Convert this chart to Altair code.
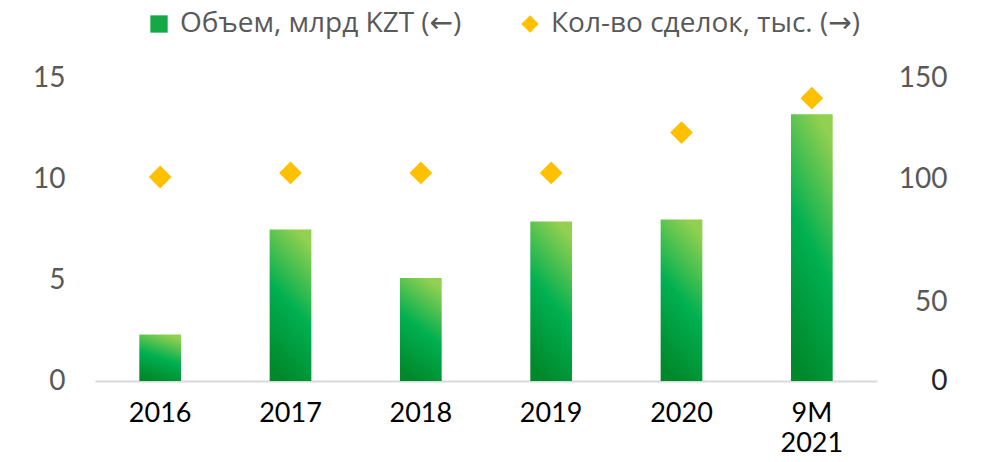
import altair as alt
import pandas as pd

years = ["2016", "2017", "2018", "2019", "2020", "9M 2021"]
volume = [2.3, 7.5, 5.1, 7.9, 8.0, 13.2]
deals = [101, 103, 103, 103, 123, 140]
vol_name = "Объем, млрд KZT (←)"
deal_name = "Кол-во сделок, тыс. (→)"

df = pd.DataFrame({"year": years, "volume": volume, "deals": deals, "series": deal_name})

x = alt.X(
    "year:N", sort=years,
    scale=alt.Scale(paddingInner=0.68, paddingOuter=0.34),
    axis=alt.Axis(title=None, labelAngle=0, labelExpr="split(datum.label, ' ')",
                  labelFont="Lato", labelFontSize=27, labelColor="#000000",
                  labelPadding=19, labelLineHeight=30, ticks=False,
                  domainColor="#D9D9D9", domainWidth=2),
)

grad = alt.Gradient(
    gradient="linear",
    stops=[alt.GradientStop(color="#00882B", offset=0),
           alt.GradientStop(color="#00B050", offset=0.5),
           alt.GradientStop(color="#92D050", offset=1)],
    x1=0.35, y1=1, x2=0.65, y2=0,
)

bars = alt.Chart(df).mark_bar(fill=grad).encode(
    x=x,
    y=alt.Y("volume:Q", scale=alt.Scale(domain=[0, 15]),
            axis=alt.Axis(title=None, values=[0, 5, 10, 15], grid=False, domain=False,
                          ticks=False, labelFont="Lato", labelFontSize=28,
                          labelColor="#595959", labelPadding=30)),
)

legend_opts = dict(title=None, orient="none", legendX=50, legendY=-68,
                   direction="horizontal", labelFont="Open Sans, DejaVu Sans",
                   labelFontSize=28, labelColor="#595959", labelLimit=600,
                   labelOffset=7, columnPadding=54, symbolSize=300,
                   symbolStrokeWidth=0)

points = alt.Chart(df).mark_point(filled=True, size=520, opacity=1).encode(
    x=x,
    y=alt.Y("deals:Q", scale=alt.Scale(domain=[0, 150]),
            axis=alt.Axis(title=None, orient="right", values=[0, 50, 100, 150], grid=False,
                          domain=False, ticks=False, labelFont="Lato", labelFontSize=28,
                          labelColor={"condition": {"test": "datum.value == 0", "value": "#262626"}, "value": "#595959"},
                          labelOffset={"condition": {"test": "datum.value == 50", "value": 22}, "value": 0},
                          labelAlign="right", labelPadding=70)),
    color=alt.Color("series:N",
                    scale=alt.Scale(domain=[vol_name, deal_name], range=["#14A846", "#FFC000"]),
                    legend=alt.Legend(**legend_opts)),
    shape=alt.Shape("series:N",
                    scale=alt.Scale(domain=[vol_name, deal_name], range=["square", "diamond"]),
                    legend=alt.Legend(**legend_opts)),
)

chart = alt.layer(bars, points).resolve_scale(y="independent").properties(
    width=782, height=303,
    autosize=alt.AutoSizeParams(type="none"),
    padding={"left": 87, "top": 70, "right": 96, "bottom": 73},
    background="white",
).configure_view(strokeWidth=0, stroke=None)

chart.save("out.html", embed_options={"renderer": "svg", "actions": False})
